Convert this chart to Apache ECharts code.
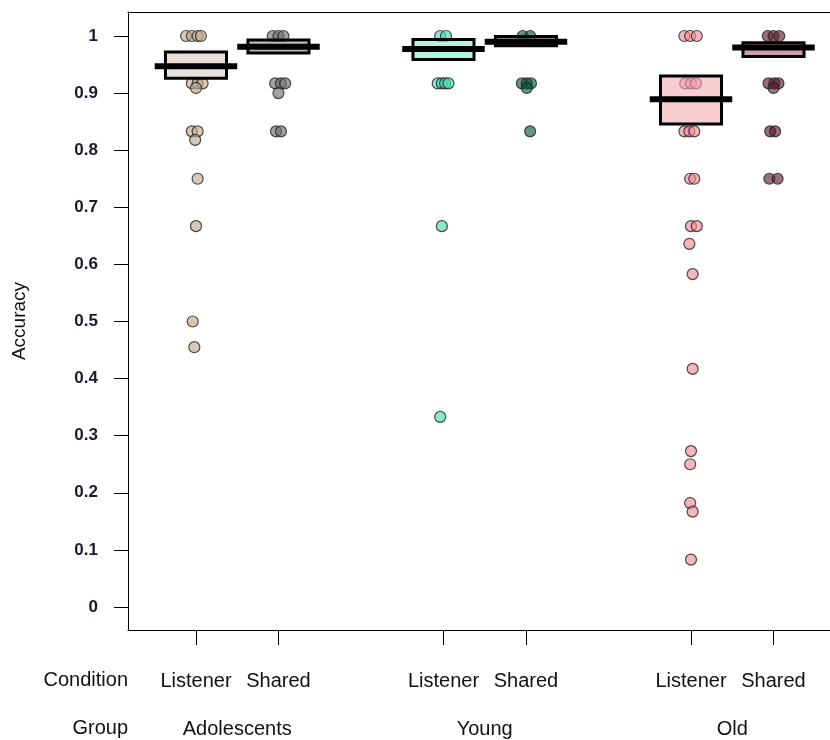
<!DOCTYPE html>
<html>
<head>
<meta charset="utf-8">
<script src="https://cdn.jsdelivr.net/npm/echarts@6/dist/echarts.min.js"></script>
<style>html,body{margin:0;padding:0;background:#fff}#c{width:830px;height:740px}</style>
</head>
<body>
<div id="c"></div>
<script>
// ---- data ----
const groups = ['Adolescents', 'Young', 'Old'];
const conditions = ['Listener', 'Shared', 'Listener', 'Shared', 'Listener', 'Shared'];
const beanX = [1, 2, 4, 5, 7, 8];
const groupX = [1.5, 4.5, 7.5];
const yTicks = [0, 0.1, 0.2, 0.3, 0.4, 0.5, 0.6, 0.7, 0.8, 0.9, 1];
const means = [0.947, 0.981, 0.977, 0.990, 0.889, 0.980];
const bandLow = [0.926, 0.970, 0.959, 0.983, 0.846, 0.964];
const bandHigh = [0.972, 0.993, 0.994, 0.999, 0.930, 0.988];
// points: [jitter offset, accuracy]
const adolListener = [[-0.12,1],[-0.05,1],[0.02,1],[0.06,1],[-0.05,0.917],[0.02,0.917],[0.08,0.917],[0,0.909],[-0.05,0.833],[0.02,0.833],[-0.01,0.818],[0.02,0.75],[0,0.667],[-0.04,0.5],[-0.02,0.455]];
const adolShared = [[-0.07,1],[0,1],[0.06,1],[-0.04,0.917],[0.03,0.917],[0.08,0.917],[0,0.9],[-0.03,0.833],[0.03,0.833]];
const youngListener = [[-0.04,1],[0.03,1],[-0.07,0.917],[-0.02,0.917],[0.02,0.917],[0.06,0.917],[-0.02,0.667],[-0.04,0.333]];
const youngShared = [[-0.04,1],[0.05,1],[-0.05,0.917],[0.01,0.917],[0.06,0.917],[0.01,0.909],[0.05,0.833]];
const oldListener = [[-0.08,1],[-0.01,1],[0.07,1],[-0.07,0.917],[0,0.917],[0.06,0.917],[-0.08,0.833],[-0.02,0.833],[0.04,0.833],[-0.01,0.75],[0.04,0.75],[0,0.667],[0.07,0.667],[-0.02,0.636],[0.02,0.583],[0.02,0.417],[0,0.273],[-0.01,0.25],[-0.01,0.182],[0.02,0.167],[0,0.083]];
const oldShared = [[-0.07,1],[0,1],[0.07,1],[-0.06,0.917],[0.01,0.917],[0.06,0.917],[0,0.909],[-0.04,0.833],[0.02,0.833],[-0.05,0.75],[0.05,0.75]];
const beanPoints = [adolListener, adolShared, youngListener, youngShared, oldListener, oldShared];

// ---- styles ----
const pointColors = ['rgba(190,170,143,0.8)','rgba(109,113,101,0.8)','rgba(74,221,176,0.8)','rgba(9,89,64,0.8)','rgba(239,139,150,0.8)','rgba(92,32,46,0.8)'];
const bandColors = ['rgba(215,203,190,0.6)','rgba(140,145,135,0.6)','rgba(130,233,200,0.6)','rgba(60,125,105,0.6)','rgba(243,170,182,0.6)','rgba(165,97,110,0.6)'];
const FONT = 'Liberation Sans, Arial, sans-serif';
const TXT = '#111';

const series = [];
beanPoints.forEach((pts, i) => {
  series.push({
    type: 'scatter', xAxisIndex: 0, yAxisIndex: 0,
    symbol: 'circle', symbolSize: 11,
    itemStyle: { color: pointColors[i], borderColor: '#222', borderWidth: 1.2 },
    data: pts.map(p => [beanX[i] + p[0], p[1]]),
    silent: true, z: 2
  });
});
const bandData = beanX.map((x, i) => [x, bandLow[i], bandHigh[i], i]);
series.push({
  type: 'custom', xAxisIndex: 0, yAxisIndex: 0, z: 3, silent: true,
  data: bandData,
  renderItem: (params, api) => {
    const x = api.value(0), lo = api.value(1), hi = api.value(2), idx = api.value(3);
    const p1 = api.coord([x - 0.37, hi]);
    const p2 = api.coord([x + 0.37, lo]);
    return { type: 'rect', shape: { x: p1[0], y: p1[1], width: p2[0] - p1[0], height: p2[1] - p1[1] },
      style: { fill: bandColors[idx], stroke: '#000', lineWidth: 3 } };
  }
});
const meanData = beanX.map((x, i) => [x, means[i]]);
series.push({
  type: 'custom', xAxisIndex: 0, yAxisIndex: 0, z: 4, silent: true,
  data: meanData,
  renderItem: (params, api) => {
    const x = api.value(0), m = api.value(1);
    const a = api.coord([x - 0.5, m]);
    const b = api.coord([x + 0.5, m]);
    return { type: 'line', shape: { x1: a[0], y1: a[1], x2: b[0], y2: b[1] },
      style: { stroke: '#000', lineWidth: 6 } };
  }
});

const XMIN = 0.176, XMAX = 8.685;
const option = {
  animation: false,
  grid: { left: 128, right: 0, top: 12, bottom: 110, outerBoundsMode: 'none', containLabel: false },
  xAxis: [
    { type: 'value', min: XMIN, max: XMAX, position: 'bottom',
      axisLine: { show: true, onZero: false, lineStyle: { color: '#000', width: 1 } },
      axisTick: { show: true, customValues: beanX, length: 15, lineStyle: { color: '#000' } },
      axisLabel: { show: true, customValues: beanX, margin: 41, fontFamily: FONT, fontSize: 20, color: TXT,
        formatter: v => { const i = beanX.indexOf(Math.round(v)); return i >= 0 ? conditions[i] : ''; } },
      splitLine: { show: false } },
    { type: 'value', min: XMIN, max: XMAX, position: 'bottom',
      axisLine: { show: false }, axisTick: { show: false },
      axisLabel: { show: true, customValues: groupX, margin: 89, fontFamily: FONT, fontSize: 20, color: TXT,
        formatter: v => { const i = groupX.indexOf(v); return i >= 0 ? groups[i] : ''; } },
      splitLine: { show: false } },
    { type: 'value', min: XMIN, max: XMAX, position: 'top',
      axisLine: { show: true, onZero: false, lineStyle: { color: '#000', width: 1 } },
      axisTick: { show: false }, axisLabel: { show: false }, splitLine: { show: false } }
  ],
  yAxis: [{
    type: 'value', min: -0.0403, max: 1.042,
    name: 'Accuracy', nameLocation: 'middle', nameRotate: 90, nameGap: 99,
    nameTextStyle: { fontFamily: FONT, fontSize: 19, color: TXT },
    axisLine: { show: true, onZero: false, lineStyle: { color: '#000', width: 1 } },
    axisTick: { show: true, customValues: yTicks, length: 14, lineStyle: { color: '#000' } },
    axisLabel: { show: true, customValues: yTicks, margin: 30, fontFamily: FONT, fontSize: 17, fontWeight: 'bold', color: '#1a1a2a',
      formatter: v => String(Math.round(v * 10) / 10) },
    splitLine: { show: false }
  }],
  graphic: [
    { type: 'text', right: 830 - 128, top: 670, style: { text: 'Condition', font: '20px ' + FONT, fill: TXT } },
    { type: 'text', right: 830 - 128, top: 718, style: { text: 'Group', font: '20px ' + FONT, fill: TXT } }
  ],
  series: series
};
echarts.init(document.getElementById('c')).setOption(option);
</script>
</body>
</html>
